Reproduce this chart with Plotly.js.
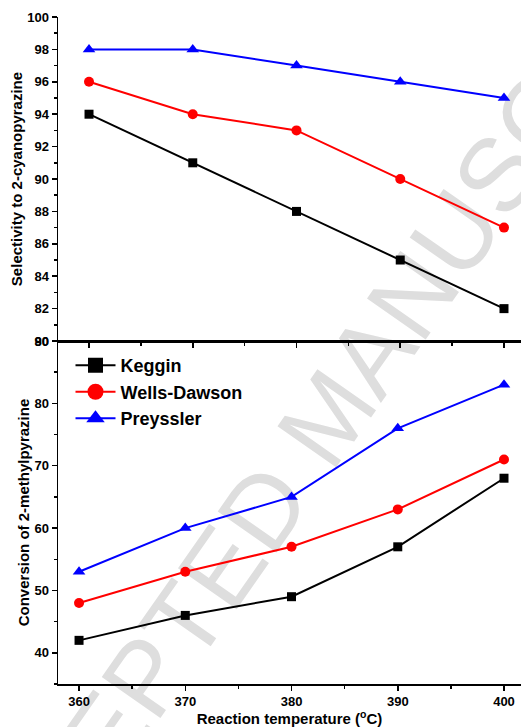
<!DOCTYPE html>
<html>
<head>
<meta charset="utf-8">
<script src="https://cdn.plot.ly/plotly-3.0.1.min.js"></script>
<style>
  html, body { margin: 0; padding: 0; background: #fff; }
  #chart { width: 521px; height: 727px; }
</style>
</head>
<body>
<div id="chart"></div>
<script>
// ---- data ----
const temperatures = [360, 370, 380, 390, 400];
const seriesNames = ["Keggin", "Wells-Dawson", "Preyssler"];
const selectivityKeggin = [94, 91, 88, 85, 82];
const selectivityWellsDawson = [96, 94, 93, 90, 87];
const selectivityPreyssler = [98, 98, 97, 96, 95];
const conversionKeggin = [42, 46, 49, 57, 68];
const conversionWellsDawson = [48, 53, 57, 63, 71];
const conversionPreyssler = [53, 60, 65, 76, 83];
const xTickVals = [360, 370, 380, 390, 400];
const selTickVals = [80, 82, 84, 86, 88, 90, 92, 94, 96, 98, 100];
const convTickVals = [40, 50, 60, 70, 80, 90];
const watermarkText = "ACCEPTED MANUSCRIPT";

// ---- styles ----
const FONT = "Liberation Sans, Arial, Helvetica, sans-serif";
const colors = ["#000000", "#ff0000", "#0000ff"];
const symbols = ["square", "circle", "triangle-up"];
const plotSizes = [9, 10, 11];
const legendSizes = [15, 16, 17];

const selSeries = [selectivityKeggin, selectivityWellsDawson, selectivityPreyssler];
const convSeries = [conversionKeggin, conversionWellsDawson, conversionPreyssler];

const traces = [];
selSeries.forEach((ys, i) => {
  traces.push({
    x: temperatures, y: ys, xaxis: "x2", yaxis: "y2",
    type: "scatter", mode: "lines+markers", name: seriesNames[i], showlegend: false,
    line: { color: colors[i], width: 2 },
    marker: { symbol: symbols[i], size: plotSizes[i], color: colors[i] }
  });
});
convSeries.forEach((ys, i) => {
  traces.push({
    x: temperatures, y: ys, xaxis: "x", yaxis: "y",
    type: "scatter", mode: "lines+markers", name: seriesNames[i], showlegend: false,
    line: { color: colors[i], width: 2 },
    marker: { symbol: symbols[i], size: plotSizes[i], color: colors[i] }
  });
});
// legend entries (larger legend symbols, no plotted marks)
seriesNames.forEach((n, i) => {
  traces.push({
    x: [null], y: [null], xaxis: "x", yaxis: "y",
    type: "scatter", mode: "lines+markers", name: n, showlegend: true,
    line: { color: colors[i], width: 2 },
    marker: { symbol: symbols[i], size: legendSizes[i], color: colors[i] }
  });
});

const tickFont = { family: FONT, size: 13, color: "#000", weight: "bold" };
const titleFont = { family: FONT, size: 15, color: "#000", weight: "bold" };
const axisLine = { showline: true, linecolor: "#000", linewidth: 1.5, showgrid: false, zeroline: false };

const layout = {
  width: 521, height: 727,
  margin: { l: 58, r: 0, t: 17, b: 43 },
  paper_bgcolor: "#fff", plot_bgcolor: "rgba(0,0,0,0)",
  font: { family: FONT, color: "#000" },
  showlegend: true,
  legend: {
    x: 0.027, y: 0.505, xanchor: "left", yanchor: "top",
    bgcolor: "rgba(0,0,0,0)", borderwidth: 0,
    font: { family: FONT, size: 18, color: "#000", weight: "bold" },
    itemwidth: 40, tracegroupgap: 0
  },
  // bottom panel
  xaxis: Object.assign({}, axisLine, {
    domain: [0, 1], anchor: "y", range: [358.02, 401.6],
    tickvals: xTickVals, ticks: "outside", ticklen: 5, tickwidth: 1.5, tickcolor: "#000",
    mirror: true, tickfont: tickFont, automargin: true,
    minor: { tick0: 360, dtick: 5, ticks: "outside", ticklen: 3, tickwidth: 1.5, tickcolor: "#000", showgrid: false },
    title: { text: "Reaction temperature (<sup>o</sup>C)", font: titleFont, standoff: 0 }
  }),
  yaxis: Object.assign({}, axisLine, {
    domain: [0, 0.5142], anchor: "x", range: [35, 90],
    tickvals: convTickVals, ticks: "outside", ticklen: 5, tickwidth: 1.5, tickcolor: "#000",
    tickfont: tickFont, automargin: true,
    minor: { tick0: 35, dtick: 5, ticks: "outside", ticklen: 3, tickwidth: 1.5, tickcolor: "#000", showgrid: false },
    title: { text: "Conversion of 2-methylpyrazine", font: titleFont, standoff: 1 }
  }),
  // top panel
  xaxis2: Object.assign({}, axisLine, {
    domain: [0, 1], anchor: "y2", range: [357.01, 401.64],
    tickvals: xTickVals, ticks: "outside", ticklen: 5, tickwidth: 1.5, tickcolor: "#000",
    showticklabels: false,
    minor: { tick0: 360, dtick: 5, ticks: "outside", ticklen: 3, tickwidth: 1.5, tickcolor: "#000", showgrid: false }
  }),
  xaxis3: Object.assign({}, axisLine, {
    overlaying: "x2", side: "top", anchor: "y2", range: [357.01, 401.64],
    tickvals: xTickVals, ticks: "inside", ticklen: 5, tickwidth: 1.5, tickcolor: "#000",
    showticklabels: false,
    minor: { tick0: 360, dtick: 5, ticks: "inside", ticklen: 3, tickwidth: 1.5, tickcolor: "#000", showgrid: false }
  }),
  yaxis2: Object.assign({}, axisLine, {
    domain: [0.5142, 1], anchor: "x2", range: [80, 100],
    tickvals: selTickVals, ticks: "outside", ticklen: 5, tickwidth: 1.5, tickcolor: "#000",
    tickfont: tickFont, automargin: true,
    minor: { tick0: 80, dtick: 1, ticks: "outside", ticklen: 3, tickwidth: 1.5, tickcolor: "#000", showgrid: false },
    title: { text: "Selectivity to 2-cyanopyrazine", font: titleFont, standoff: 1 }
  }),
  shapes: [{
    type: "line", layer: "below", xref: "paper", yref: "paper",
    x0: 0.4419, y0: 0.2880, x1: 0.6898, y1: 0.5336,
    line: { color: "rgba(0,0,0,0)", width: 0 },
    label: {
      text: watermarkText, textangle: -55, textposition: "middle",
      xanchor: "center", yanchor: "middle",
      font: { family: FONT, size: 104, color: "#dedede" }
    }
  }]
};

Plotly.newPlot("chart", traces, layout, { displayModeBar: false, staticPlot: true });
</script>
</body>
</html>
